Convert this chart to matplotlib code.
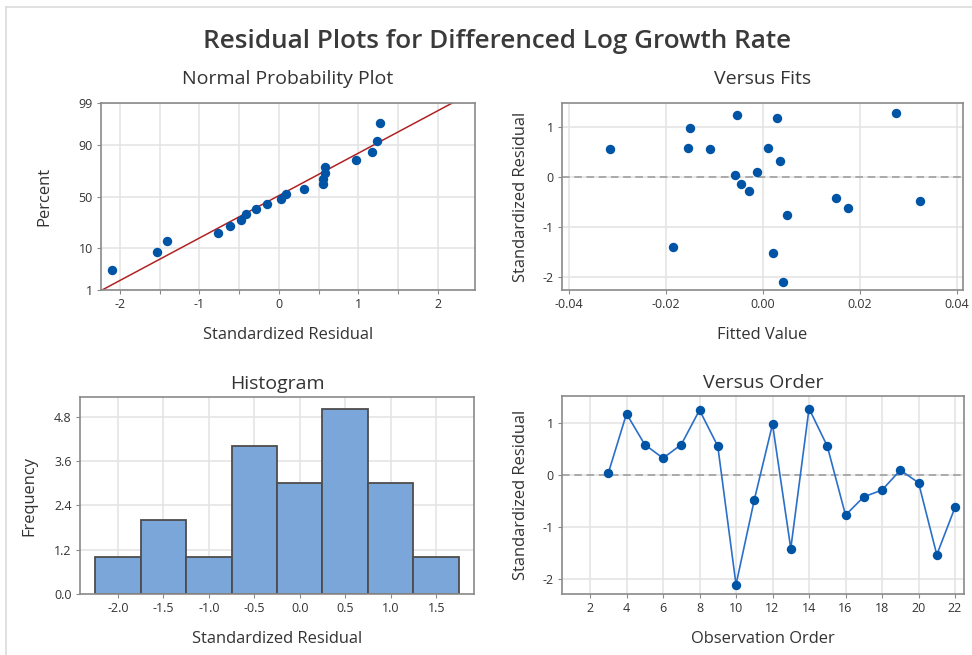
import matplotlib
matplotlib.use("Agg")
import matplotlib.pyplot as plt
from matplotlib.lines import Line2D
from statistics import NormalDist
import numpy as np

plt.rcParams['font.family'] = ['Open Sans', 'DejaVu Sans']

# Residuals by observation order (obs 3..22)
obs_order = [3, 4, 5, 6, 7, 8, 9, 10, 11, 12, 13, 14, 15, 16, 17, 18, 19, 20, 21, 22]
std_resid = [0.03, 1.17, 0.58, 0.32, 0.58, 1.24, 0.55, -2.10, -0.48, 0.97,
             -1.41, 1.27, 0.55, -0.77, -0.42, -0.29, 0.09, -0.15, -1.53, -0.62]
fitted = [-0.0057, 0.0030, 0.0010, 0.0035, -0.0155, -0.0053, -0.0110, 0.0041, 0.0325, -0.0150,
          -0.0185, 0.0275, -0.0315, 0.0050, 0.0150, -0.0029, -0.0012, -0.0046, 0.0021, 0.0175]

hist_edges = [-2.25, -1.75, -1.25, -0.75, -0.25, 0.25, 0.75, 1.25, 1.75]

pct_ticks = [1, 10, 50, 90, 99]
hist_xticks = [-2.0, -1.5, -1.0, -0.5, 0.0, 0.5, 1.0, 1.5]
hist_yticks = [0.0, 1.2, 2.4, 3.6, 4.8]

DOT = '#0054a6'
LINE = '#2a6fc9'
BAR = '#7ba6d9'
GRID = '#e3e3e3'
FRAME = '#8a8a8a'
TXT = '#333333'

LBL = 11.9
SUB = 14

W, H = 972, 655
fig = plt.figure(figsize=(W / 100, H / 100), dpi=100)


def px_axes(l, t, r, b):
    return fig.add_axes([l / W, 1 - b / H, (r - l) / W, (b - t) / H])


def style(ax):
    ax.set_facecolor('white')
    for s in ax.spines.values():
        s.set_color(FRAME)
        s.set_linewidth(1.2)
    ax.grid(True, color=GRID, linewidth=1.1)
    ax.set_axisbelow(True)
    ax.tick_params(colors=TXT, labelsize=9, length=3, width=0.8, color=FRAME, pad=3)


nd = NormalDist()

# Normal probability plot
ax1 = px_axes(101, 103, 475, 290)
style(ax1)
srt = np.sort(std_resid)
n = len(srt)
z_pts = [nd.inv_cdf((i - 0.3) / (n + 0.4)) for i in range(1, n + 1)]
mu, sd = np.mean(std_resid), np.std(std_resid, ddof=1)
zl = np.array([nd.inv_cdf(0.005), nd.inv_cdf(0.995)])
ax1.plot(mu + sd * zl, zl, color='#b22222', linewidth=1.1, zorder=2)
ax1.scatter(srt, z_pts, s=46, color=DOT, zorder=3, linewidths=0)
ax1.set_xlim(-2.24, 2.47)
ax1.set_ylim(nd.inv_cdf(0.01), nd.inv_cdf(0.99))
ax1.set_yticks([nd.inv_cdf(p / 100) for p in pct_ticks])
ax1.set_yticklabels([str(p) for p in pct_ticks])
ax1.set_xticks(np.arange(-2, 2.01, 0.5))
ax1.set_xticklabels(['-2', '', '-1', '', '0', '', '1', '', '2'])
ax1.set_xlabel('Standardized Residual', fontsize=LBL, color=TXT, labelpad=11)
ax1.set_ylabel('Percent', fontsize=LBL, color=TXT, labelpad=19)
ax1.set_title('Normal Probability Plot', fontsize=SUB, color=TXT, pad=14)

# Versus fits
ax2 = px_axes(562, 103, 963, 290)
style(ax2)
ax2.axhline(0, color='#999999', linestyle=(0, (5, 3)), linewidth=1.1, zorder=2)
ax2.scatter(fitted, std_resid, s=46, color=DOT, zorder=3, linewidths=0)
ax2.set_xlim(-0.04144, 0.0413)
ax2.set_ylim(-2.27, 1.47)
ax2.set_xticks([-0.04, -0.02, 0.0, 0.02, 0.04])
ax2.set_xticklabels(['-0.04', '-0.02', '0.00', '0.02', '0.04'])
ax2.set_yticks([-2, -1, 0, 1])
ax2.set_yticklabels(['-2', '-1', '0', '1'])
ax2.set_xlabel('Fitted Value', fontsize=LBL, color=TXT, labelpad=11)
ax2.set_ylabel('Standardized Residual', fontsize=LBL, color=TXT, labelpad=10)
ax2.set_title('Versus Fits', fontsize=SUB, color=TXT, pad=14)

# Histogram
ax3 = px_axes(80, 397, 474, 594)
style(ax3)
ax3.hist(std_resid, bins=hist_edges, color=BAR, edgecolor='#4d4d4d', linewidth=1.3, zorder=2)
ax3.set_xlim(-2.415, 1.915)
ax3.set_ylim(0, 5.33)
ax3.set_xticks(hist_xticks)
ax3.set_xticklabels([f'{v:.1f}' for v in hist_xticks])
ax3.set_yticks(hist_yticks)
ax3.set_yticklabels([f'{v:.1f}' for v in hist_yticks])
ax3.set_xlabel('Standardized Residual', fontsize=LBL, color=TXT, labelpad=11)
ax3.set_ylabel('Frequency', fontsize=LBL, color=TXT, labelpad=12)
ax3.set_title('Histogram', fontsize=SUB, color=TXT, pad=6)

# Versus order
ax4 = px_axes(562, 396, 964, 594)
style(ax4)
ax4.axhline(0, color='#999999', linestyle=(0, (5, 3)), linewidth=1.1, zorder=2)
ax4.plot(obs_order, std_resid, color=LINE, linewidth=1.2, zorder=3)
ax4.scatter(obs_order, std_resid, s=46, color=DOT, zorder=4, linewidths=0)
ax4.set_xlim(0.466, 22.49)
ax4.set_ylim(-2.28, 1.51)
ax4.set_xticks(range(2, 23, 2))
ax4.set_yticks([-2, -1, 0, 1])
ax4.set_yticklabels(['-2', '-1', '0', '1'])
ax4.set_xlabel('Observation Order', fontsize=LBL, color=TXT, labelpad=11)
ax4.set_ylabel('Standardized Residual', fontsize=LBL, color=TXT, labelpad=10)
ax4.set_title('Versus Order', fontsize=SUB, color=TXT, pad=6)

fig.text(497 / W, 1 - 42 / H, 'Residual Plots for Differenced Log Growth Rate',
         ha='center', va='center', fontsize=18.8, fontweight='semibold', color='#3a3a3a')

# outer window frame
fig.add_artist(Line2D([6 / W, 1], [1 - 7 / H, 1 - 7 / H], color='#dcdcdc', linewidth=1.2))
fig.add_artist(Line2D([6 / W, 6 / W], [0, 1 - 7 / H], color='#dcdcdc', linewidth=1.2))

fig.savefig('out.png', dpi=100, facecolor='white')
